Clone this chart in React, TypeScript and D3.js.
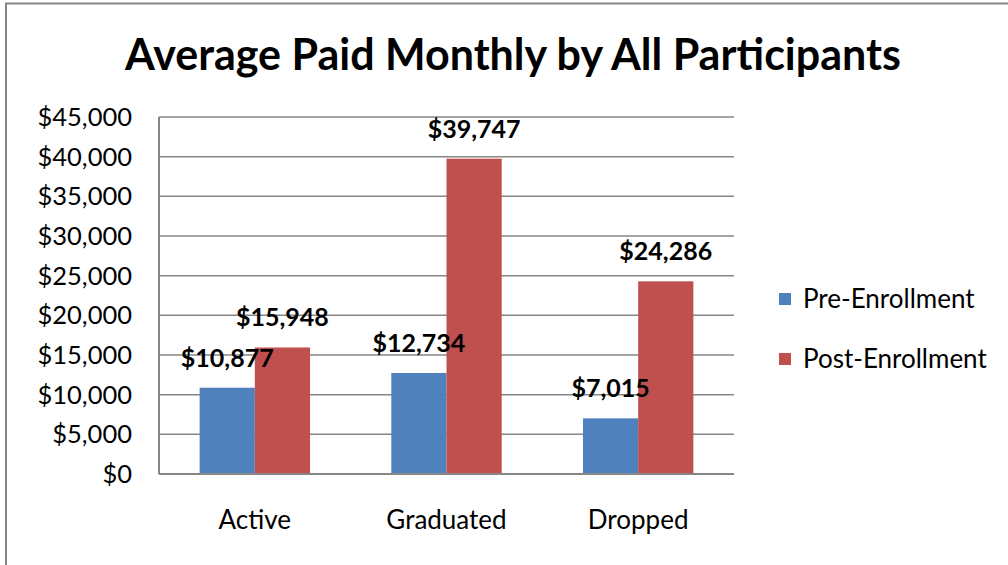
import React from 'react';
import * as d3 from 'd3';

const categories = ['Active', 'Graduated', 'Dropped'];
const seriesNames = ['Pre-Enrollment', 'Post-Enrollment'];
const preEnrollment = [10877, 12734, 7015];
const postEnrollment = [15948, 39747, 24286];
const yTicks = [0, 5000, 10000, 15000, 20000, 25000, 30000, 35000, 40000, 45000];
const colors = ['#4f81bd', '#c0504d'];

const W = 1008;
const H = 565;
const FONT = 'Lato, "Open Sans", sans-serif';

export default function App() {
  const margin = { top: 117, right: 275, bottom: 91, left: 159 };
  const innerW = 734 - margin.left;
  const innerH = 474 - margin.top;

  const x0 = d3.scaleBand().domain(categories).range([0, innerW]).paddingInner(0.424).paddingOuter(0.212);
  const x1 = d3.scaleBand().domain(seriesNames).range([0, x0.bandwidth()]);
  const y = d3.scaleLinear().domain([0, 45000]).range([innerH, 0]);
  const fmt = (v: number) => '$' + d3.format(',')(v);

  const series = [preEnrollment, postEnrollment];

  return (
    <svg width={W} height={H} style={{ position: 'absolute', left: 0, top: 0, background: '#fff' }}>
      <rect x={6} y={3.5} width={W + 20} height={H + 20} fill="#fff" stroke="#868686" strokeWidth={2} />
      <text x={513} y={70} textAnchor="middle" fontFamily={FONT} fontWeight="bold" fontSize={43} fill="#000">
        Average Paid Monthly by All Participants
      </text>
      <g transform={`translate(${margin.left},${margin.top})`}>
        {yTicks.map(t => (
          <g key={t}>
            {t > 0 && (
              <line x1={0} x2={innerW} y1={y(t)} y2={y(t)} stroke="#868686" strokeWidth={1.5} />
            )}
            <text x={-27} y={y(t)} dy="0.35em" textAnchor="end" fontFamily={FONT} fontSize={25.5} fill="#000">
              {fmt(t)}
            </text>
          </g>
        ))}
        {categories.map((c, i) => (
          <g key={c} transform={`translate(${x0(c)},0)`}>
            {series.map((s, j) => (
              <rect key={j} x={x1(seriesNames[j])} y={y(s[i])} width={x1.bandwidth()} height={innerH - y(s[i])} fill={colors[j]} />
            ))}
          </g>
        ))}
        {categories.map((c, i) => (
          <g key={c + 'l'} transform={`translate(${x0(c)},0)`}>
            {series.map((s, j) => (
              <text key={j} x={(x1(seriesNames[j]) || 0) + x1.bandwidth() / 2} y={y(s[i]) - 21} textAnchor="middle"
                fontFamily={FONT} fontWeight="bold" fontSize={25} fill="#000">
                {fmt(s[i])}
              </text>
            ))}
            <text x={x0.bandwidth() / 2} y={innerH + 46} dy="0.35em" textAnchor="middle" fontFamily={FONT} fontSize={26} fill="#000">
              {c}
            </text>
          </g>
        ))}
        <line x1={0} x2={0} y1={0} y2={innerH} stroke="#868686" strokeWidth={2} />
        <line x1={0} x2={innerW} y1={innerH} y2={innerH} stroke="#868686" strokeWidth={2} />
      </g>
      {seriesNames.map((n, j) => (
        <g key={n} transform={`translate(779,${293 + j * 60})`}>
          <rect width={12} height={12} fill={colors[j]} />
          <text x={24} y={6} dy="0.35em" fontFamily={FONT} fontSize={26} fill="#000">{n}</text>
        </g>
      ))}
    </svg>
  );
}
